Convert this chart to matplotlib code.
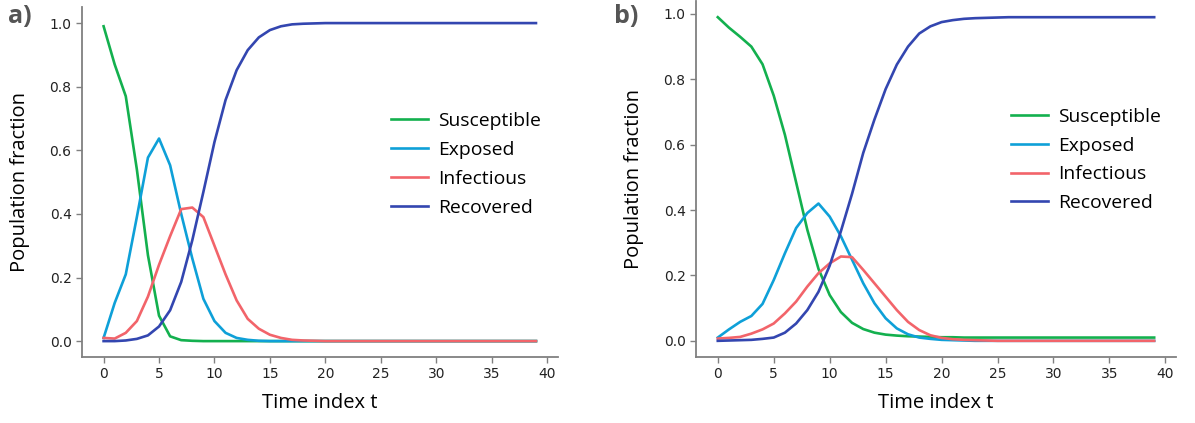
import matplotlib
matplotlib.use("Agg")
import matplotlib.pyplot as plt

# time steps
t = list(range(40))

# panel a) values
S_a = [0.99, 0.87, 0.77, 0.54, 0.27, 0.08, 0.015, 0.003, 0.001] + [0.0] * 31
E_a = [0.01, 0.12, 0.21, 0.39, 0.577, 0.637, 0.553, 0.40, 0.26, 0.133,
       0.063, 0.026, 0.01, 0.004, 0.001] + [0.0] * 25
I_a = [0.01, 0.008, 0.026, 0.063, 0.14, 0.24, 0.33, 0.415, 0.42, 0.39,
       0.30, 0.21, 0.128, 0.07, 0.039, 0.02, 0.01, 0.004, 0.002, 0.001] + [0.0] * 20
R_a = [0.0, 0.0, 0.002, 0.007, 0.018, 0.046, 0.097, 0.186, 0.317, 0.469,
       0.626, 0.758, 0.852, 0.915, 0.955, 0.978, 0.99, 0.996, 0.998, 0.999] + [1.0] * 20

# panel b)
S_b = [0.99, 0.958, 0.93, 0.9, 0.846, 0.75, 0.63, 0.485, 0.34, 0.22,
       0.14, 0.088, 0.055, 0.036, 0.025, 0.019, 0.016, 0.014, 0.013, 0.012,
       0.011, 0.011] + [0.01] * 18
E_b = [0.01, 0.035, 0.058, 0.076, 0.113, 0.186, 0.268, 0.345, 0.391, 0.42,
       0.38, 0.32, 0.248, 0.176, 0.115, 0.069, 0.038, 0.02, 0.01, 0.006,
       0.003, 0.002, 0.001] + [0.0] * 17
I_b = [0.007, 0.009, 0.012, 0.022, 0.035, 0.053, 0.084, 0.12, 0.166, 0.207,
       0.237, 0.258, 0.256, 0.217, 0.176, 0.135, 0.094, 0.058, 0.033, 0.017,
       0.009, 0.005, 0.003, 0.002, 0.001] + [0.0] * 15
R_b = [0.0, 0.001, 0.002, 0.003, 0.006, 0.01, 0.025, 0.053, 0.094, 0.15,
       0.23, 0.335, 0.45, 0.575, 0.677, 0.77, 0.845, 0.9, 0.94, 0.962,
       0.975, 0.981, 0.985, 0.987, 0.988, 0.989] + [0.99] * 14

labels = ["Susceptible", "Exposed", "Infectious", "Recovered"]
colors = ["#13b04e", "#0ea0d8", "#f2646a", "#3346b0"]

label_font = "Open Sans"
spine_col = "#808080"

fig = plt.figure(figsize=(11.95, 4.23), dpi=100)
ax_a = fig.add_axes([0.0686, 0.156, 0.398, 0.827])
ax_b = fig.add_axes([0.5824, 0.156, 0.4017, 0.8416])

panels = [(ax_a, [S_a, E_a, I_a, R_a], "a)", (0.007, 0.96), (0.65, 0.70)),
          (ax_b, [S_b, E_b, I_b, R_b], "b)", (0.514, 0.96), (0.656, 0.70))]

for ax, series, tag, tag_pos, leg_pos in panels:
    for ys, lab, c in zip(series, labels, colors):
        ax.plot(t, ys, color=c, lw=1.9, label=lab)
    ax.set_xticks(range(0, 41, 5))
    ax.set_yticks([0.0, 0.2, 0.4, 0.6, 0.8, 1.0])
    for side in ["top", "right"]:
        ax.spines[side].set_visible(False)
    for side in ["left", "bottom"]:
        ax.spines[side].set_color(spine_col)
        ax.spines[side].set_linewidth(1.3)
    ax.tick_params(colors="#222222", labelsize=10, length=4, width=1, direction="out")
    ax.tick_params(color=spine_col)
    ax.set_xlabel("Time index t", fontfamily=label_font, fontsize=14.5, labelpad=8)
    ax.set_ylabel("Population fraction", fontfamily=label_font, fontsize=14.5, labelpad=14)
    ax.legend(frameon=False, loc="upper left", bbox_to_anchor=leg_pos,
              prop={"family": label_font, "size": 13.9},
              handlelength=1.9, handletextpad=0.55, labelspacing=0.56,
              borderpad=0, borderaxespad=0)
    fig.text(tag_pos[0], tag_pos[1], tag, fontfamily=label_font, fontweight="bold",
             fontsize=18, color="#555555", va="center")

fig.savefig("out.png", dpi=100)
